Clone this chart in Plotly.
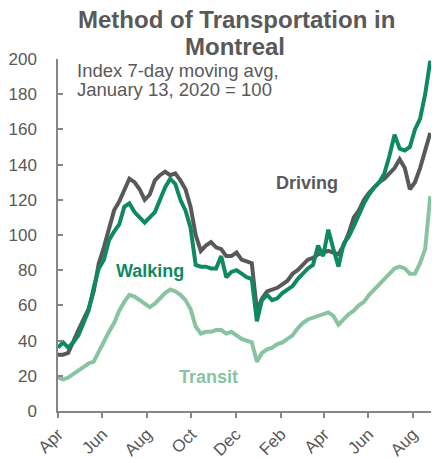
import plotly.graph_objects as go

dates = [
    "2020-04-01", "2020-04-08", "2020-04-15", "2020-04-22", "2020-04-29",
    "2020-05-06", "2020-05-13", "2020-05-20", "2020-05-27",
    "2020-06-03", "2020-06-10", "2020-06-17", "2020-06-24",
    "2020-07-01", "2020-07-08", "2020-07-15", "2020-07-22", "2020-07-29",
    "2020-08-05", "2020-08-12", "2020-08-19", "2020-08-26",
    "2020-09-02", "2020-09-09", "2020-09-16", "2020-09-23", "2020-09-30",
    "2020-10-07", "2020-10-14", "2020-10-21", "2020-10-28",
    "2020-11-04", "2020-11-11", "2020-11-18", "2020-11-25",
    "2020-12-02", "2020-12-09", "2020-12-16", "2020-12-23", "2020-12-30",
    "2021-01-06", "2021-01-13", "2021-01-20", "2021-01-27",
    "2021-02-03", "2021-02-10", "2021-02-17", "2021-02-24",
    "2021-03-03", "2021-03-10", "2021-03-17", "2021-03-24", "2021-03-31",
    "2021-04-07", "2021-04-14", "2021-04-21", "2021-04-28",
    "2021-05-05", "2021-05-12", "2021-05-19", "2021-05-26",
    "2021-06-02", "2021-06-09", "2021-06-16", "2021-06-23", "2021-06-30",
    "2021-07-07", "2021-07-14", "2021-07-21", "2021-07-28",
    "2021-08-04", "2021-08-11", "2021-08-18", "2021-08-25",
]

driving = [32, 32, 33, 40, 46, 52, 58, 68, 84, 93, 104, 114, 119, 125, 132, 130,
           126, 120, 123, 131, 134, 136, 134, 135, 131, 126, 116, 100, 91, 94, 96,
           93, 92, 88, 88, 90, 86, 85, 84, 57, 64, 68, 69, 70, 72, 74, 78, 80, 83,
           86, 87, 89, 90, 91, 90, 89, 94, 101, 110, 114, 120, 124, 127, 130, 132,
           135, 138, 143, 138, 126, 130, 138, 148, 158]

walking = [36, 39, 36, 39, 43, 50, 57, 70, 81, 86, 97, 102, 106, 116, 118, 113,
           110, 107, 110, 113, 120, 127, 132, 129, 120, 114, 104, 83, 82, 82, 81,
           81, 88, 76, 79, 80, 78, 76, 75, 51, 63, 66, 63, 64, 67, 69, 71, 75, 78,
           81, 83, 94, 88, 103, 92, 82, 95, 99, 105, 112, 118, 123, 127, 130, 135,
           145, 157, 149, 148, 150, 160, 166, 180, 199]

transit = [19, 18, 19, 21, 23, 25, 27, 28, 34, 39, 45, 50, 57, 62, 66, 65,
           63, 61, 59, 61, 64, 67, 69, 68, 66, 63, 58, 48, 44, 45, 45,
           46, 46, 44, 45, 43, 41, 40, 39, 28, 33, 35, 36, 38, 39, 41, 43, 47, 50,
           52, 53, 54, 55, 56, 54, 49, 52, 55, 57, 60, 62, 66, 69, 72, 75,
           78, 81, 82, 81, 78, 78, 84, 92, 122]

tick_dates = ["2020-04-01", "2020-06-01", "2020-08-01", "2020-10-01", "2020-12-01",
              "2021-02-01", "2021-04-01", "2021-06-01", "2021-08-01"]
tick_labels = ["Apr", "Jun", "Aug", "Oct", "Dec", "Feb", "Apr", "Jun", "Aug"]

C_DRIVE = "#595959"
C_WALK = "#0F8A5F"
C_TRANSIT = "#88C4A1"
GRAY = "#595959"
AXIS = "#868686"
FONT = "Liberation Sans, Arial, sans-serif"

fig = go.Figure()
fig.add_trace(go.Scatter(x=dates, y=transit, mode="lines", name="Transit",
                         line=dict(color=C_TRANSIT, width=4)))
fig.add_trace(go.Scatter(x=dates, y=driving, mode="lines", name="Driving",
                         line=dict(color=C_DRIVE, width=4)))
fig.add_trace(go.Scatter(x=dates, y=walking, mode="lines", name="Walking",
                         line=dict(color=C_WALK, width=4)))

fig.update_layout(
    width=432, height=459,
    margin=dict(l=58, r=1, t=59, b=48),
    paper_bgcolor="white", plot_bgcolor="white",
    showlegend=False,
    font=dict(family=FONT, color=GRAY, size=17),
)

fig.update_xaxes(
    type="date", range=["2020-04-01", "2021-08-26"], automargin=False,
    tickvals=tick_dates, ticktext=tick_labels, tickangle=-45,
    showgrid=False, zeroline=False, showline=True, linecolor=AXIS, linewidth=1.5,
    ticks="outside", ticklen=5, tickcolor=AXIS, tickwidth=1.5,
    tickfont=dict(size=17, color=GRAY),
)
fig.update_yaxes(
    range=[0, 200], dtick=20, automargin=False,
    showgrid=False, zeroline=False, showline=True, linecolor=AXIS, linewidth=1.5,
    ticks="inside", ticklen=5, tickcolor=AXIS, tickwidth=1.5,
    tickfont=dict(size=17, color=GRAY), ticklabelstandoff=16,
)

def px_x(px):
    return (px - 58) / 373.0

def px_y(py):
    return (411 - py) / 352.0

annos = [
    dict(text="<b>Method of Transportation in</b>", x=px_x(236), y=px_y(20),
         xanchor="center", yanchor="middle", font=dict(size=24, color=GRAY)),
    dict(text="<b>Montreal</b>", x=px_x(235), y=px_y(46),
         xanchor="center", yanchor="middle", font=dict(size=24, color=GRAY)),
    dict(text="Index 7-day moving avg,", x=px_x(75), y=px_y(70),
         xanchor="left", yanchor="middle", font=dict(size=18.5, color=GRAY)),
    dict(text="January 13, 2020 = 100", x=px_x(75), y=px_y(89.5),
         xanchor="left", yanchor="middle", font=dict(size=18.5, color=GRAY)),
    dict(text="<b>Driving</b>", x=px_x(274), y=px_y(183),
         xanchor="left", yanchor="middle", font=dict(size=18, color=C_DRIVE)),
    dict(text="<b>Walking</b>", x=px_x(114), y=px_y(271),
         xanchor="left", yanchor="middle", font=dict(size=18, color=C_WALK)),
    dict(text="<b>Transit</b>", x=px_x(177), y=px_y(377),
         xanchor="left", yanchor="middle", font=dict(size=18, color=C_TRANSIT)),
]
for a in annos:
    fig.add_annotation(xref="paper", yref="paper", showarrow=False, **a)

fig.write_html("out.html", config={"displayModeBar": False},
               post_script="document.body.style.margin='0px';")
